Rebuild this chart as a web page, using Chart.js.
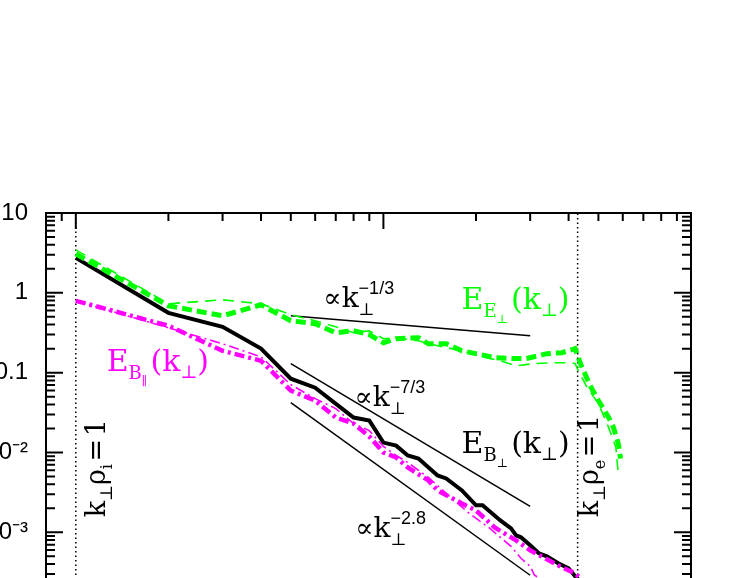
<!DOCTYPE html>
<html>
<head>
<meta charset="utf-8">
<script src="https://cdn.jsdelivr.net/npm/chart.js@4.4.0/dist/chart.umd.min.js"></script>
<style>
  html, body { margin: 0; padding: 0; background: #fff; overflow: hidden; }
  #wrap { width: 733px; height: 578px; overflow: hidden; }
</style>
</head>
<body>
<div id="wrap"><canvas id="spec" width="733" height="742"></canvas></div>
<script>
// Spectra vs k_perp rho_i
const kBperp = [1, 2, 3, 4, 5, 6, 8, 9, 10, 11, 12, 13, 15, 16, 18, 20, 21, 24, 26, 27, 28, 30, 32, 34, 37, 40, 42, 46, 52];
const eBperp = [2.74, 0.562, 0.376, 0.200, 0.0841, 0.0649, 0.0274, 0.0251, 0.0133, 0.0122, 0.00917, 0.00841, 0.00516, 0.00473, 0.00335, 0.00218, 0.00218, 0.00141, 0.00112, 0.000917, 0.000866, 0.000688, 0.000546, 0.000501, 0.00041, 0.000355, 0.000282, 0.0002, 0.00013];

const kEperp = [1, 2, 3, 4, 5, 6, 7, 8, 9, 10, 11, 13, 14, 16, 18, 20, 23, 27, 29, 32, 34, 38, 42, 44, 47, 50, 54, 56, 58, 59];
const eEperp = [3.07, 0.688, 0.516, 0.708, 0.447, 0.41, 0.316, 0.335, 0.299, 0.237, 0.266, 0.274, 0.230, 0.230, 0.188, 0.173, 0.154, 0.150, 0.150, 0.163, 0.173, 0.178, 0.2, 0.122, 0.0688, 0.0447, 0.0274, 0.0205, 0.0130, 0.0084];

const kEperp2 = [1, 2, 3, 4, 5, 6, 7, 8, 9, 10, 11, 13, 15, 18, 21, 24, 27, 31, 36, 40, 42, 43, 46, 50, 54, 57, 58];
const eEperp2 = [3.45, 0.729, 0.818, 0.729, 0.531, 0.447, 0.376, 0.316, 0.335, 0.266, 0.274, 0.251, 0.217, 0.188, 0.158, 0.141, 0.122, 0.130, 0.133, 0.133, 0.130, 0.106, 0.0649, 0.041, 0.0205, 0.01155, 0.00546];

const kBpar = [1, 2, 3, 4, 5, 6, 7, 8, 9, 10, 11, 12, 14, 15, 18, 20, 23, 27, 30, 34, 38, 42, 46, 52];
const eBpar = [0.794, 0.387, 0.188, 0.141, 0.0596, 0.0447, 0.0274, 0.0230, 0.0158, 0.0100, 0.00866, 0.00649, 0.00447, 0.00335, 0.0023, 0.00188, 0.00115, 0.000794, 0.000596, 0.00046, 0.000365, 0.000307, 0.000218, 0.00014];

const kBpar2 = [1, 2, 3, 4, 5, 6, 7, 8, 9, 10, 11, 12, 14, 16, 19, 22, 24, 26, 28, 30, 31, 33, 38];
const eBpar2 = [0.794, 0.365, 0.230, 0.158, 0.0708, 0.0473, 0.0355, 0.0230, 0.0188, 0.0119, 0.00917, 0.0075, 0.00487, 0.00308, 0.00173, 0.00115, 0.000866, 0.000668, 0.000473, 0.000376, 0.00029, 0.000251, 0.00016];

// power-law guide lines
const kFit = [5, 30];
const fitOneThird = [0.516, 0.29];
const fitSevenThirds = [0.1296, 0.00211];
const fitTwoEight = [0.0422, 0.00029];

// k_perp rho_i = 1 and k_perp rho_e = 1
const kRhoI = 1;
const kRhoE = 42.8;

const yDecades = [10, 1, 0.1, 1e-2, 1e-3, 1e-4, 1e-5];
const yTickLabels = ['10', '1', '0.1', '10\u207B\u00B2', '10\u207B\u00B3', '10\u207B\u2074', '10\u207B\u2075'];
const xDecades = [1, 10, 100];
const xTickLabels = ['1', '10', '100'];

const GREEN = '#00ff00';
const MAGENTA = '#ff00ff';
const SERIF = '"DejaVu Serif", "Liberation Serif", serif';
const SANS = '"Liberation Sans", "DejaVu Sans", sans-serif';

function pts(k, v) {
    return k.map((x, i) => ({ x: x, y: v[i] }));
}

function line(data, color, width, dash) {
    return {
        data: data,
        borderColor: color,
        borderWidth: width,
        borderDash: dash || [],
        pointRadius: 0,
        fill: false,
        tension: 0
    };
}

// text labels, anchored in data coordinates: [text, size, dy, sameXAsPrevious, sans]
const powerLaw = exp => [['\u221D', 27], ['k', 28], ['\u22A5', 17, 8], ['\u2212' + exp, 18, -13, true, true]];
const spectrum = sub => [['E', 30], [sub[0], 18, 8], [sub[1], 12, 14], [' ', 10], ['(k', 30], ['\u22A5', 18, 7], [')', 30]];
const rhoLabel = s => [['k', 27], ['\u22A5', 17, 7], ['\u03C1', 27], [s, 16, 7], [' ', 8], ['=', 27], [' ', 8], ['1', 27]];

const notes = [
    { k: 6.38, v: 0.668, color: '#000', parts: powerLaw('1/3') },
    { k: 17.95, v: 0.631, color: GREEN, parts: spectrum(['E', '\u22A5']) },
    { k: 1.26, v: 0.106, color: MAGENTA, parts: spectrum(['B', '\u2225']) },
    { k: 8.05, v: 0.0387, color: '#000', parts: powerLaw('7/3') },
    { k: 17.95, v: 0.01, color: '#000', parts: spectrum(['B', '\u22A5']) },
    { k: 8.1, v: 0.000866, color: '#000', parts: powerLaw('2.8') },
    { k: 1.245, v: 0.00154, color: '#000', rot: true, parts: rhoLabel('i') },
    { k: 49.7, v: 0.00154, color: '#000', rot: true, parts: rhoLabel('e') }
];

function drawRich(ctx, x0, y0, parts) {
    let start = x0, end = x0;
    parts.forEach(([t, size, dy = 0, back = false, sans = false]) => {
        ctx.font = size + 'px ' + (sans ? SANS : SERIF);
        const x = back ? start : end;
        ctx.fillText(t, x, y0 + dy);
        start = x;
        end = Math.max(end, x + ctx.measureText(t).width);
    });
}

// Frame with inward ticks on all four sides, plus the text labels
const framePlugin = {
    id: 'frame',
    afterDraw(chart) {
        const { ctx, chartArea: a, scales: { x, y } } = chart;
        ctx.save();
        ctx.strokeStyle = '#000';
        ctx.lineWidth = 2;
        ctx.strokeRect(a.left, a.top, a.right - a.left, a.bottom - a.top);

        ctx.beginPath();
        for (let n = -6; n <= 1; n++) {
            for (let m = 1; m <= 9; m++) {
                const v = m * Math.pow(10, n);
                if (v < y.min * 0.999 || v > y.max * 1.001) continue;
                const py = y.getPixelForValue(v);
                const len = m === 1 ? 17 : 9;
                ctx.moveTo(a.left, py); ctx.lineTo(a.left + len, py);
                ctx.moveTo(a.right, py); ctx.lineTo(a.right - len, py);
            }
        }
        for (let n = -1; n <= 2; n++) {
            for (let m = 1; m <= 9; m++) {
                const v = m * Math.pow(10, n);
                if (v < x.min * 0.999 || v > x.max * 1.001) continue;
                const px = x.getPixelForValue(v);
                const len = m === 1 ? 16 : 8;
                ctx.moveTo(px, a.top); ctx.lineTo(px, a.top + len);
                ctx.moveTo(px, a.bottom); ctx.lineTo(px, a.bottom - len);
            }
        }
        ctx.stroke();

        ctx.textAlign = 'left';
        ctx.textBaseline = 'alphabetic';
        notes.forEach(n => {
            ctx.fillStyle = n.color;
            const px = x.getPixelForValue(n.k);
            const py = y.getPixelForValue(n.v);
            if (n.rot) {
                ctx.save();
                ctx.translate(px, py);
                ctx.rotate(-Math.PI / 2);
                drawRich(ctx, 0, 0, n.parts);
                ctx.restore();
            } else {
                drawRich(ctx, px, py, n.parts);
            }
        });
        ctx.restore();
    }
};

const ctx = document.getElementById('spec');

new Chart(ctx, {
    type: 'line',
    data: {
        datasets: [
            line(pts(kBpar, eBpar), MAGENTA, 4.5, [10, 4, 3, 4]),
            line(pts(kBpar2, eBpar2), MAGENTA, 1.6, [10, 4, 2, 4]),
            line(pts(kEperp, eEperp), GREEN, 5, [10, 5]),
            line(pts(kEperp2, eEperp2), GREEN, 1.6, [11, 7]),
            line(pts(kBperp, eBperp), '#000', 4),
            line(pts(kFit, fitOneThird), '#000', 1.5),
            line(pts(kFit, fitSevenThirds), '#000', 1.5),
            line(pts(kFit, fitTwoEight), '#000', 1.5),
            line([{ x: kRhoI, y: 1e-5 }, { x: kRhoI, y: 10 }], '#000', 1.5, [1.5, 3]),
            line([{ x: kRhoE, y: 1e-5 }, { x: kRhoE, y: 10 }], '#000', 1.5, [1.5, 3])
        ]
    },
    options: {
        responsive: false,
        animation: false,
        layout: {
            padding: { top: 213, right: 42, bottom: 10, left: 0 }
        },
        plugins: {
            legend: { display: false },
            tooltip: { enabled: false }
        },
        scales: {
            x: {
                type: 'logarithmic',
                position: 'bottom',
                min: 0.8,
                max: 100,
                grid: { display: false, drawTicks: false },
                border: { display: false },
                afterFit: s => { s.height = 40; },
                ticks: {
                    autoSkip: false,
                    maxRotation: 0,
                    color: '#000',
                    font: { family: 'Liberation Sans', size: 24 },
                    callback: function(value) {
                        const i = xDecades.findIndex(d => Math.abs(value / d - 1) < 1e-6);
                        return i >= 0 ? xTickLabels[i] : '';
                    }
                }
            },
            y: {
                type: 'logarithmic',
                min: 1e-5,
                max: 10,
                grid: { display: false, drawTicks: false },
                border: { display: false },
                afterFit: s => { s.width = 46; },
                ticks: {
                    autoSkip: false,
                    padding: 18,
                    color: '#000',
                    font: { family: 'Liberation Sans', size: 24 },
                    callback: function(value) {
                        const i = yDecades.findIndex(d => Math.abs(value / d - 1) < 1e-6);
                        return i >= 0 ? yTickLabels[i] : '';
                    }
                }
            }
        }
    },
    plugins: [framePlugin]
});
</script>
</body>
</html>
